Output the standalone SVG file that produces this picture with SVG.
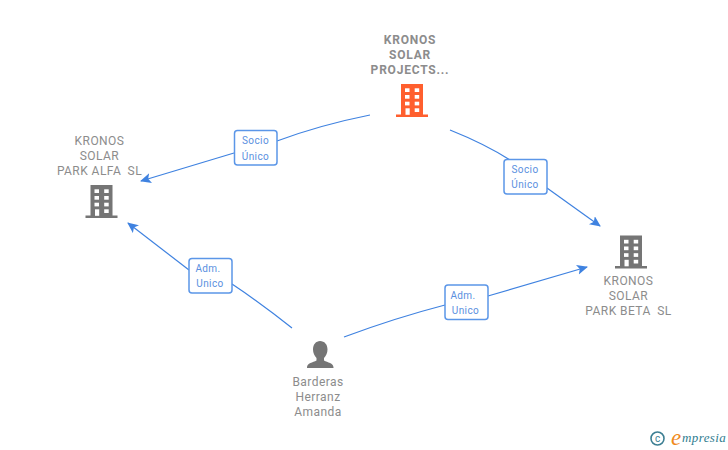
<svg xmlns="http://www.w3.org/2000/svg" width="728" height="450" viewBox="0 0 728 450">
<style>
.c{fill:none;stroke:#3f82e0;stroke-width:1.2}
.lb{fill:#fff;stroke:#5b96e8;stroke-width:1.5}
.lt{font:10px Roboto,"Liberation Sans",sans-serif;fill:#5a90e0;text-anchor:middle;letter-spacing:.4px}
.t{font:12px Roboto,"Liberation Sans",sans-serif;fill:#8c8c8c;text-anchor:middle;letter-spacing:.45px}
.b{font-weight:700;letter-spacing:.8px}
.h{fill:#fff}
</style>
<defs>
<marker id="a" markerUnits="userSpaceOnUse" markerWidth="12" markerHeight="12" refX="10" refY="5" orient="auto"><path d="M0 0L11 5L0 10L2.500 5Z" fill="#3f82e0"/></marker>
<g id="bld">
<path d="M5 0H27V30.500H32V33H0V30.500H5Z"/>
<g class="h"><rect x="9" y="4.300" width="4.500" height="3.700"/><rect x="18.700" y="4.300" width="4.500" height="3.700"/><rect x="9" y="11" width="4.500" height="3.700"/><rect x="18.700" y="11" width="4.500" height="3.700"/><rect x="9" y="17.700" width="4.500" height="3.700"/><rect x="18.700" y="17.700" width="4.500" height="3.700"/><rect x="9.500" y="24.300" width="4.200" height="6.500"/><rect x="18.700" y="24.300" width="4.500" height="3.700"/></g>
</g>
</defs>
<g id="connectors">
<path class="c" d="M370 115Q320 125 277 141"/>
<path class="c" d="M234 153L141 181" marker-end="url(#a)"/>
<path class="c" d="M450 130Q485 144 510 160"/>
<path class="c" d="M547 188L600 226" marker-end="url(#a)"/>
<path class="c" d="M189 270L128 223" marker-end="url(#a)"/>
<path class="c" d="M232 284Q262 304 292 328"/>
<path class="c" d="M344 337Q395 318 445 305"/>
<path class="c" d="M488 296L587 267" marker-end="url(#a)"/>
</g>
<g id="label-socio-1"><rect class="lb" x="234.500" y="130.500" width="42.500" height="34.500" rx="3"/><text class="lt" x="255.500" y="144">Socio</text><text class="lt" x="255.500" y="159.500">Único</text></g>
<g id="label-socio-2"><rect class="lb" x="504" y="159.500" width="43" height="34.500" rx="3"/><text class="lt" x="525" y="173">Socio</text><text class="lt" x="525" y="188">Único</text></g>
<g id="label-adm-1"><rect class="lb" x="189" y="258.500" width="43" height="34.500" rx="3"/><text class="lt" x="208" y="271.500">Adm.</text><text class="lt" x="210" y="287">Unico</text></g>
<g id="label-adm-2"><rect class="lb" x="445" y="285" width="43" height="34.500" rx="3"/><text class="lt" x="463" y="298.500">Adm.</text><text class="lt" x="465.500" y="313.500">Unico</text></g>
<g id="node-projects"><text class="t b" x="410" y="44">KRONOS</text><text class="t b" x="410" y="59">SOLAR</text><text class="t b" x="410" y="74">PROJECTS...</text><use href="#bld" x="396" y="84" fill="#ff5f2e"/></g>
<g id="node-alfa"><text class="t" x="99.500" y="145">KRONOS</text><text class="t" x="99.500" y="160">SOLAR</text><text class="t" x="99.500" y="175">PARK ALFA  <tspan dx="3">SL</tspan></text><use href="#bld" x="85.500" y="185" fill="#757575"/></g>
<g id="node-beta"><text class="t" x="628.500" y="285">KRONOS</text><text class="t" x="628.500" y="300">SOLAR</text><text class="t" x="628.500" y="315">PARK BETA  <tspan dx="3">SL</tspan></text><use href="#bld" x="615" y="235.500" fill="#757575"/></g>
<g id="node-person"><path d="M320 341c4.500 0 7.500 3.500 7.500 8.500c0 3.500-1.500 6.500-3.500 8.500v2.500c3.500 2 9.500 2.500 9.500 7V368H307v-.500c0-4.500 6-5 9.500-7V358c-2-2-3.500-5-3.500-8.500c0-5 3-8.500 7-8.500Z" fill="#757575"/><text class="t" x="318" y="386">Barderas</text><text class="t" x="318" y="401">Herranz</text><text class="t" x="318" y="416">Amanda</text></g>
<g id="logo"><circle cx="657.500" cy="438.500" r="6.500" fill="none" stroke="#3d7f93" stroke-width="1.600"/><text x="657.500" y="442" font-family="Roboto,sans-serif" font-size="10" fill="#3d7f93" text-anchor="middle">c</text><text x="671" y="445" font-family="'Liberation Serif',serif" font-style="italic" font-size="23" fill="#f08a1c">e</text><text x="682" y="442" font-family="'Liberation Serif',serif" font-style="italic" font-size="13" fill="#2f7d8f" letter-spacing=".4">mpresia</text></g>
</svg>
